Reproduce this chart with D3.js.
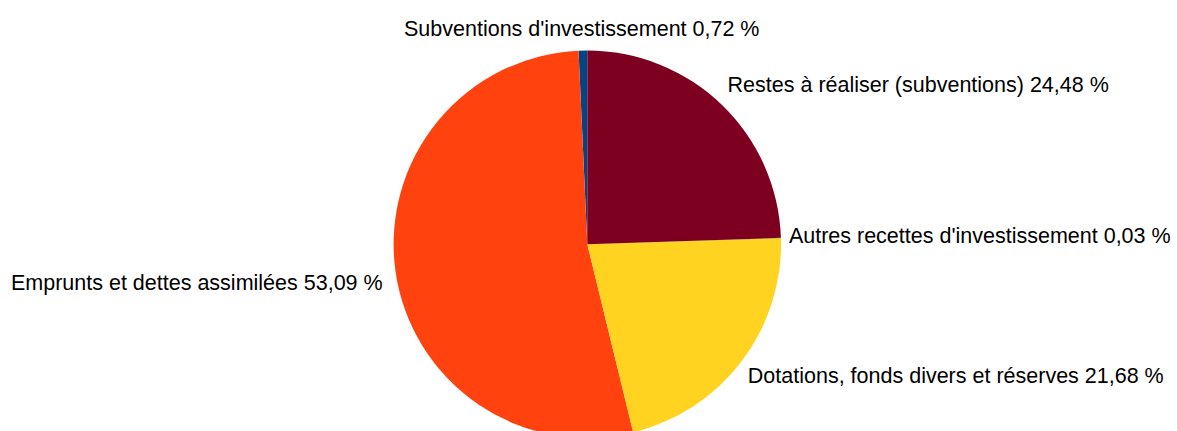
<!DOCTYPE html>
<html>
<head>
<meta charset="utf-8">
<script src="https://cdn.jsdelivr.net/npm/d3@7"></script>
<style>
  html, body { margin: 0; padding: 0; background: #fff; }
  svg { display: block; }
  text { font-family: "Liberation Sans", Arial, sans-serif; font-size: 21.5px; fill: #000; }
</style>
</head>
<body>
<svg id="chart" width="1177" height="431"></svg>
<script>
// Data (order as in the source spreadsheet; pie drawn counter-clockwise from 12 o'clock)
const categories = [
  "Subventions d'investissement",
  "Emprunts et dettes assimilées",
  "Dotations, fonds divers et réserves",
  "Autres recettes d'investissement",
  "Restes à réaliser (subventions)"
];
const percentValues = [0.72, 53.09, 21.68, 0.03, 24.48];
const percentLabels = ["0,72 %", "53,09 %", "21,68 %", "0,03 %", "24,48 %"];
const sliceColors = ["#004586", "#ff420e", "#ffd320", "#579d1c", "#7e0021"];

const width = 1177, height = 431;
const cx = 587.3, cy = 244.2, radius = 193.7;

const svg = d3.select("#chart");
const g = svg.append("g").attr("transform", `translate(${cx},${cy})`);

const pie = d3.pie().sort(null).value(d => d.value)
  .startAngle(0).endAngle(-2 * Math.PI);

const data = categories.map((c, i) => ({ name: c, value: percentValues[i], label: percentLabels[i], color: sliceColors[i] }));
const arcs = pie(data);

const arc = d3.arc().innerRadius(0).outerRadius(radius);

g.selectAll("path.slice")
  .data(arcs)
  .join("path")
  .attr("class", "slice")
  .attr("d", arc)
  .attr("fill", d => d.data.color);

// Labels placed just outside the rim at each slice's mid angle
const labelR = radius + 8;
g.selectAll("text.lbl")
  .data(arcs)
  .join("text")
  .attr("class", "lbl")
  .each(function(d) {
    const a = (d.startAngle + d.endAngle) / 2;
    const s = Math.sin(a), c = Math.cos(a);
    let x = labelR * s, y = -labelR * c;
    let anchor = "middle";
    if (s > 0.15) anchor = "start";
    else if (s < -0.15) { anchor = "end"; x -= 5; }
    else x -= 1;
    let dy;
    if (c > 0.2) dy = -7;
    else if (c < -0.1) dy = 17;
    else dy = 5;
    d3.select(this)
      .attr("x", x)
      .attr("y", y + dy)
      .attr("text-anchor", anchor)
      .text(d.data.name + " " + d.data.label);
  });
</script>
</body>
</html>
